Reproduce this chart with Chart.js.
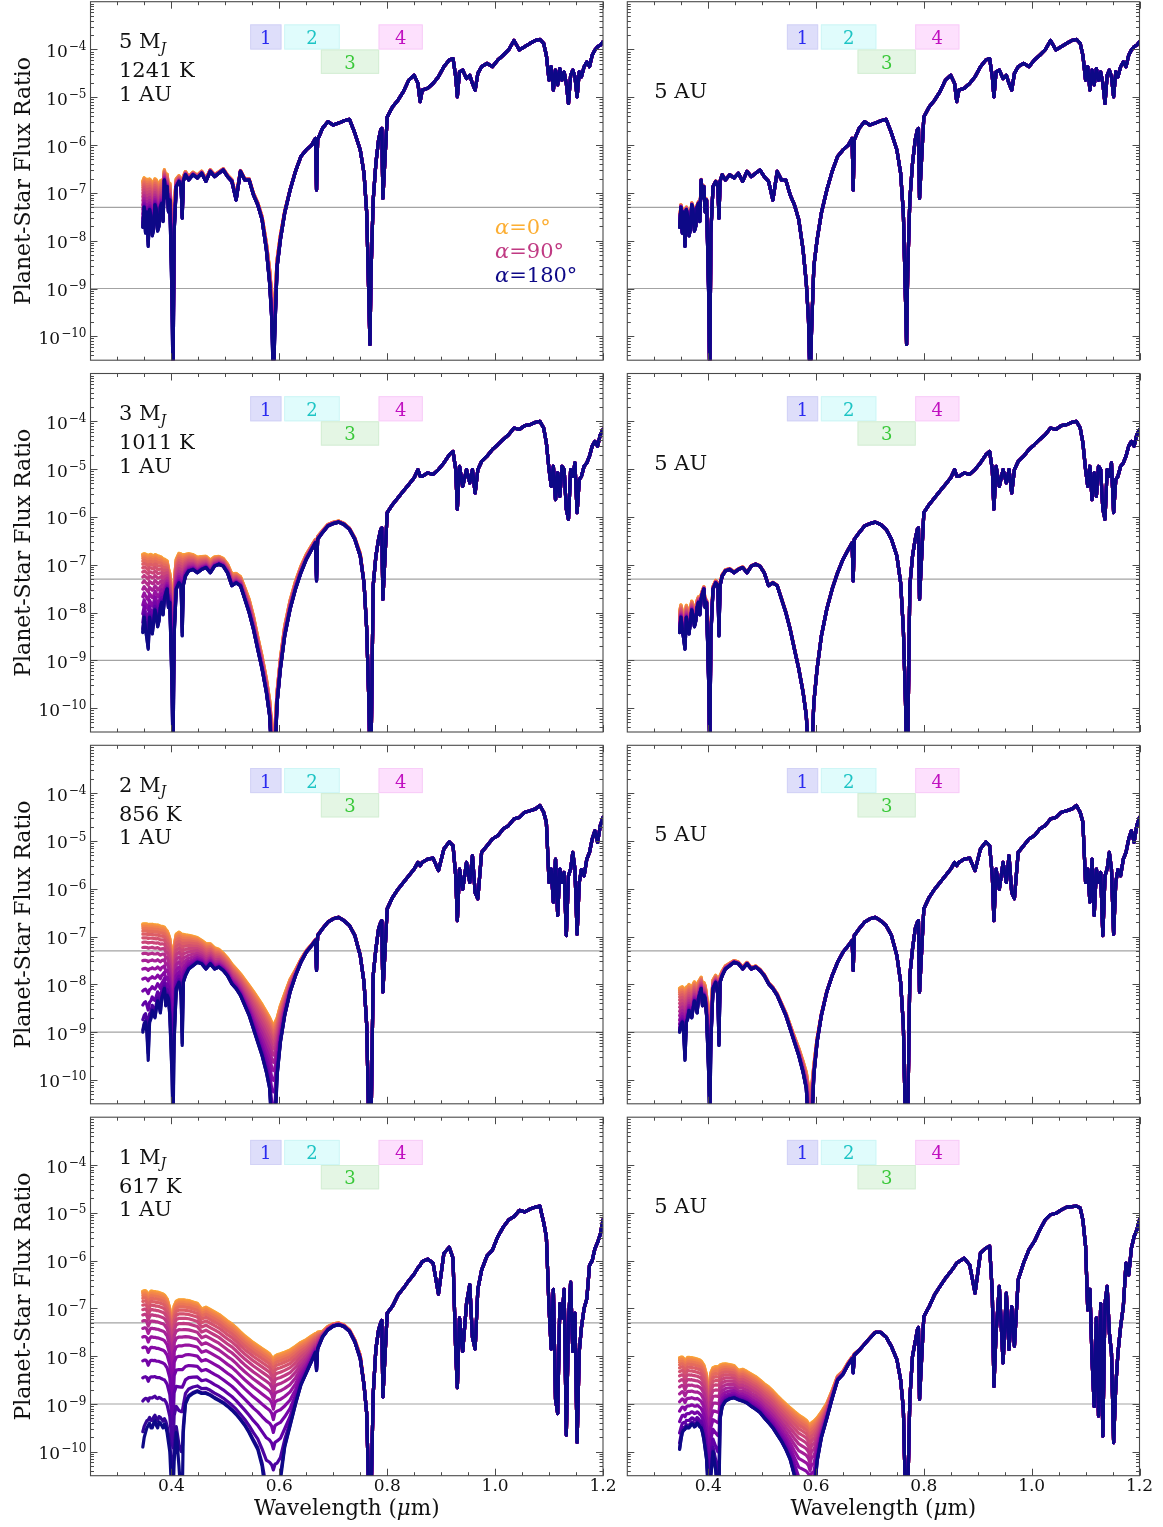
<!DOCTYPE html>
<html><head><meta charset="utf-8">
<script src="https://cdn.jsdelivr.net/npm/chart.js@4.4.1/dist/chart.umd.min.js"></script>
<style>
html,body{margin:0;padding:0;background:#fff;}
#fig{position:relative;width:1163px;height:1527px;overflow:hidden;background:#fff;}
#fig canvas{position:absolute;left:0;top:0;}
</style></head><body><div id="fig"></div>
<script>
// ---------------- DATA ----------------
// wavelength grid, micrometres
const wavelength = [0.347,0.3495,0.352,0.3545,0.357,0.3595,0.362,0.3645,0.367,0.3695,
 0.372,0.3745,0.377,0.3795,0.382,0.3845,0.387,0.3895,0.392,0.3945,
 0.397,0.401,0.403,0.405,0.409,0.414,0.418,0.420,0.422,0.426,
 0.432,0.440,0.448,0.456,0.464,0.472,0.480,0.488,0.496,0.504,
 0.512,0.520,0.528,0.536,0.544,0.552,0.560,0.568,0.576,0.582,
 0.586,0.589,0.592,0.596,0.602,0.610,0.620,0.630,0.640,0.650,
 0.660,0.667,0.669,0.671,0.680,0.690,0.700,0.710,0.720,0.730,
 0.740,0.750,0.757,0.762,0.766,0.768,0.770,0.774,0.779,0.784,
 0.788,0.790,0.792,0.800,0.810,0.820,0.830,0.840,0.850,0.857,
 0.861,0.865,0.875,0.885,0.895,0.905,0.915,0.922,0.927,0.930,
 0.934,0.940,0.947,0.953,0.958,0.963,0.968,0.975,0.985,0.995,
 1.005,1.015,1.025,1.035,1.045,1.055,1.065,1.075,1.083,1.090,
 1.095,1.100,1.104,1.108,1.112,1.116,1.120,1.124,1.128,1.132,
 1.136,1.140,1.144,1.148,1.152,1.156,1.160,1.165,1.170,1.175,
 1.180,1.185,1.190,1.195,1.200];

// night-side (alpha = 180 deg) planet/star flux ratio, log10
const thermalLog_5MJ = [-7.72,-7.3,-7.84,-7.4,-8.12,-7.35,-7.49,-7.9,-7.77,-7.25,
 -7.35,-7.8,-7.70,-7.3,-7.22,-7.6,-6.73,-7.1,-6.87,-7.4,
 -7.15,-9.2,-11,-7.84,-6.87,-6.76,-6.87,-7.53,-6.76,-6.62,
 -6.73,-6.62,-6.69,-6.59,-6.76,-6.55,-6.66,-6.59,-6.52,-6.66,
 -6.76,-7.15,-6.55,-6.73,-6.73,-7.04,-7.25,-7.56,-8.19,-8.89,
 -9.65,-11,-9.79,-8.54,-7.98,-7.42,-6.94,-6.55,-6.24,-6.10,
 -6.0,-5.86,-6.94,-5.89,-5.65,-5.51,-5.58,-5.54,-5.49,-5.46,
 -5.75,-6.10,-6.59,-7.42,-9.23,-10.17,-8.68,-7.15,-6.38,-5.89,
 -5.68,-5.65,-7.11,-5.41,-5.20,-5.06,-4.88,-4.64,-4.54,-4.71,
 -5.09,-4.85,-4.81,-4.71,-4.57,-4.36,-4.22,-4.19,-4.57,-4.99,
 -4.47,-4.43,-4.61,-4.54,-4.71,-4.85,-4.50,-4.36,-4.29,-4.36,
 -4.22,-4.12,-4.01,-3.81,-4.01,-3.94,-3.87,-3.81,-3.79,-3.87,
 -4.12,-4.64,-4.36,-4.85,-4.43,-4.74,-4.40,-4.64,-4.47,-4.71,
 -5.13,-4.54,-4.43,-4.57,-4.99,-4.47,-4.57,-4.36,-4.26,-4.36,
 -4.12,-4.01,-3.94,-3.91,-3.84];
const thermalLog_3MJ = [-8.42,-8.1,-8.35,-8.55,-8.77,-8.1,-8.28,-8.45,-8.21,-7.95,
 -8.07,-8.3,-8.18,-7.9,-7.79,-8.05,-7.72,-7.6,-7.51,-7.9,
 -7.79,-9.53,-11,-8.49,-7.51,-7.38,-7.44,-8.49,-7.44,-7.24,
 -7.13,-7.10,-7.17,-7.10,-7.06,-7.17,-7.03,-6.99,-7.03,-7.17,
 -7.44,-7.38,-7.44,-7.72,-8.0,-8.35,-8.77,-9.18,-9.67,-10.16,
 -11,-11,-11,-9.88,-9.18,-8.49,-7.93,-7.51,-7.17,-6.89,
 -6.68,-6.54,-7.34,-6.47,-6.33,-6.19,-6.14,-6.11,-6.16,-6.26,
 -6.47,-6.82,-7.38,-8.35,-9.88,-11,-11,-7.44,-6.82,-6.47,
 -6.26,-6.23,-7.72,-5.91,-5.74,-5.60,-5.46,-5.32,-5.18,-5.01,
 -5.15,-5.15,-5.08,-5.11,-5.01,-4.87,-4.70,-4.63,-5.01,-5.84,
 -4.94,-5.36,-5.01,-5.29,-5.01,-5.50,-5.01,-4.84,-4.73,-4.59,
 -4.49,-4.38,-4.28,-4.14,-4.17,-4.09,-4.07,-4.02,-4.0,-4.14,
 -4.45,-5.01,-5.36,-4.94,-5.64,-5.08,-5.57,-4.94,-5.01,-5.84,
 -6.05,-5.01,-5.15,-4.87,-5.91,-5.22,-5.15,-4.94,-4.87,-4.73,
 -4.52,-4.42,-4.52,-4.28,-4.17];
const thermalLog_2MJ = [-9.0,-8.85,-8.79,-9.0,-9.59,-8.8,-8.72,-8.55,-8.65,-8.7,
 -8.51,-8.35,-8.44,-8.6,-8.30,-8.2,-8.09,-8.45,-8.23,-8.3,
 -8.65,-9.9,-11,-9.2,-8.09,-7.96,-8.23,-9.28,-7.96,-7.82,
 -7.68,-7.61,-7.54,-7.57,-7.68,-7.57,-7.68,-7.64,-7.71,-7.82,
 -7.99,-8.09,-8.23,-8.44,-8.65,-8.93,-9.21,-9.49,-9.84,-10.18,
 -11,-11,-11,-9.9,-9.21,-8.65,-8.16,-7.82,-7.54,-7.33,
 -7.19,-7.08,-7.71,-6.98,-6.84,-6.70,-6.63,-6.60,-6.67,-6.77,
 -6.98,-7.40,-7.96,-8.86,-11,-11,-11,-7.82,-7.26,-6.84,
 -6.70,-6.67,-8.16,-6.42,-6.18,-6.01,-5.87,-5.73,-5.59,-5.45,
 -5.52,-5.45,-5.38,-5.36,-5.62,-5.17,-5.02,-5.10,-5.73,-6.67,
 -5.59,-6.01,-5.45,-5.87,-5.31,-6.08,-6.21,-5.24,-5.10,-4.96,
 -4.89,-4.75,-4.68,-4.54,-4.51,-4.40,-4.37,-4.33,-4.26,-4.40,
 -4.61,-5.87,-5.59,-6.28,-5.38,-6.56,-5.59,-5.87,-5.66,-6.98,
 -5.73,-5.59,-5.24,-5.59,-6.95,-5.87,-5.6,-5.73,-5.38,-5.24,
 -4.96,-4.79,-5.03,-4.68,-4.51];
const thermalLog_1MJ_1AU = [-9.9,-9.7,-9.6,-9.5,-9.45,-9.4,-9.5,-9.5,-9.4,-9.35,
 -9.45,-9.5,-9.38,-9.4,-9.45,-9.5,-9.42,-9.48,-9.6,-9.8,
 -10.0,-11,-11,-10.2,-9.6,-10.3,-11,-11,-9.6,-9.0,
 -8.85,-8.78,-8.74,-8.78,-8.78,-8.82,-8.88,-8.93,-8.98,-9.05,
 -9.13,-9.22,-9.33,-9.45,-9.6,-9.78,-9.95,-10.3,-11,-11,
 -11,-11,-11,-11,-10.6,-9.9,-9.45,-9.0,-8.6,-8.35,
 -8.1,-7.92,-8.3,-7.85,-7.6,-7.45,-7.37,-7.34,-7.38,-7.48,
 -7.7,-8.05,-8.6,-9.2,-11,-11,-11,-8.8,-7.85,-7.45,
 -7.3,-7.25,-8.85,-7.1,-6.95,-6.72,-6.58,-6.42,-6.28,-6.15,
 -6.10,-6.02,-5.97,-6.05,-6.7,-5.85,-5.72,-5.95,-7.9,-8.66,
 -7.2,-7.9,-6.9,-6.5,-7.6,-7.85,-6.6,-6.2,-5.9,-5.78,
 -5.5,-5.3,-5.15,-5.08,-4.95,-4.98,-4.92,-4.88,-4.86,-5.2,
 -5.5,-7.0,-7.85,-6.6,-8.9,-9.2,-6.9,-7.2,-6.6,-9.65,
 -7.3,-6.45,-7.9,-7.1,-9.8,-7.9,-7.4,-7.0,-6.8,-6.1,
 -6.0,-5.75,-5.62,-5.45,-5.15];
const thermalLog_1MJ_5AU = [-9.95,-9.75,-9.6,-9.55,-9.53,-9.48,-9.5,-9.5,-9.46,-9.42,
 -9.43,-9.48,-9.46,-9.4,-9.43,-9.48,-9.5,-9.6,-9.74,-9.95,
 -10.16,-11,-11,-10.5,-10.0,-10.4,-11,-11,-9.32,-9.05,
 -8.94,-8.89,-8.87,-8.91,-8.94,-8.98,-9.05,-9.11,-9.18,-9.29,
 -9.39,-9.5,-9.64,-9.78,-9.95,-10.16,-10.5,-11,-11,-11,
 -11,-11,-11,-11,-10.2,-9.7,-9.3,-8.88,-8.5,-8.38,
 -8.17,-8.05,-8.35,-7.98,-7.88,-7.75,-7.62,-7.5,-7.5,-7.6,
 -7.8,-8.07,-8.5,-9.1,-11,-11,-11,-8.9,-8.0,-7.7,
 -7.45,-7.4,-8.9,-7.17,-6.96,-6.71,-6.54,-6.37,-6.23,-6.12,
 -6.05,-6.02,-5.95,-6.09,-6.68,-5.84,-5.74,-5.7,-6.68,-8.63,
 -7.51,-6.54,-8.14,-6.68,-7.86,-6.96,-7.79,-6.4,-6.05,-5.77,
 -5.6,-5.36,-5.15,-5.04,-5.01,-4.94,-4.88,-4.87,-4.86,-4.9,
 -5.15,-5.7,-7.03,-6.6,-8.07,-9.05,-7.2,-9.25,-6.9,-9.67,
 -6.9,-6.54,-7.5,-7.93,-9.81,-8.63,-7.93,-7.38,-6.96,-6.05,
 -6.3,-5.74,-5.5,-5.36,-5.15];

// full-phase (alpha = 0) reflected-light ratio at 1 AU, log10, for lambda <= 0.75 um
const reflectedLog_5MJ = [-6.8,-6.8,-6.8,-6.81,-6.82,-6.82,-6.82,-6.83,-6.85,-6.85,
 -6.85,-6.86,-6.88,-6.89,-6.9,-6.91,-6.92,-6.93,-6.95,-7.0,
 -7.05,-7.6,-10,-7.4,-7.2,-7.25,-7.3,-7.35,-7.35,-7.4,
 -7.45,-7.5,-7.52,-7.55,-7.6,-7.62,-7.65,-7.7,-7.72,-7.76,
 -7.8,-7.85,-7.9,-7.95,-8.0,-8.1,-8.2,-8.35,-8.6,-8.9,
 -9.3,-9.6,-9.3,-8.9,-8.6,-8.5,-8.4,-8.35,-8.3,-8.3,
 -8.3,-8.3,-8.3,-8.3,-8.3,-8.3,-8.3,-8.35,-8.4,-8.45,
 -8.5,-8.55];
const reflectedLog_3MJ = [-6.79,-6.79,-6.79,-6.8,-6.82,-6.81,-6.8,-6.81,-6.83,-6.82,
 -6.82,-6.83,-6.84,-6.87,-6.9,-6.92,-6.95,-7.0,-7.05,-7.15,
 -7.3,-7.9,-9.5,-7.4,-7.0,-6.88,-6.88,-6.9,-6.9,-6.97,
 -7.02,-7.08,-7.12,-7.16,-7.2,-7.24,-7.28,-7.33,-7.38,-7.45,
 -7.55,-7.62,-7.7,-7.85,-8.05,-8.4,-8.85,-9.25,-9.7,-10.1,
 -10.5,-10.7,-10.5,-10.0,-9.35,-8.7,-8.2,-7.85,-7.6,-7.45,
 -7.35,-7.3,-7.3,-7.3,-7.3,-7.3,-7.3,-7.35,-7.4,-7.5,
 -7.6,-7.7];
const reflectedLog_2MJ = [-6.74,-6.74,-6.74,-6.74,-6.75,-6.75,-6.75,-6.75,-6.76,-6.76,
 -6.77,-6.77,-6.78,-6.79,-6.8,-6.81,-6.83,-6.86,-6.9,-6.97,
 -7.05,-7.4,-7.7,-7.2,-6.98,-6.95,-6.96,-6.98,-7.0,-7.03,
 -7.07,-7.12,-7.18,-7.25,-7.3,-7.36,-7.43,-7.51,-7.6,-7.69,
 -7.79,-7.89,-7.97,-8.05,-8.14,-8.23,-8.34,-8.46,-8.6,-8.71,
 -8.8,-8.87,-8.8,-8.73,-8.53,-8.39,-8.24,-8.31,-8.35,-8.4,
 -8.45,-8.5,-8.5,-8.5,-8.55,-8.6,-8.65,-8.7,-8.75,-8.8,
 -8.85,-8.9];
const reflectedLog_1MJ = [-6.64,-6.63,-6.63,-6.66,-6.75,-6.68,-6.64,-6.64,-6.65,-6.65,
 -6.66,-6.66,-6.67,-6.68,-6.69,-6.7,-6.72,-6.76,-6.8,-6.9,
 -7.0,-7.5,-7.6,-6.95,-6.85,-6.82,-6.82,-6.82,-6.82,-6.83,
 -6.84,-6.87,-6.9,-7.02,-6.98,-7.03,-7.08,-7.13,-7.2,-7.27,
 -7.33,-7.41,-7.5,-7.58,-7.65,-7.72,-7.78,-7.84,-7.9,-7.95,
 -8.02,-8.15,-8.0,-7.97,-7.95,-7.92,-7.88,-7.82,-7.77,-7.75,
 -7.73,-7.75,-7.8,-7.75,-8.1,-8.2,-8.3,-8.4,-8.5,-8.6,
 -8.7,-8.8];

const phaseAngles = [0,10,20,30,40,50,60,70,80,90,100,110,120,130,140,150,160,170,180];
const phaseFactor = [1.0,0.9855,0.9443,0.8808,0.8003,0.7081,0.6090,0.5081,0.4099,0.3183,
 0.2363,0.1661,0.1090,0.0653,0.0344,0.0148,0.0045,0.0006,0.0];

const distancesAU = [1, 5];
const massLabels = ['5', '3', '2', '1'];
const teffLabels = ['1241 K', '1011 K', '856 K', '617 K'];
const referenceLevels = [5e-8, 1e-9];

// bandpasses 1-4
const bandNames = ['1', '2', '3', '4'];
const bandMin = [0.546, 0.609, 0.677, 0.784];
const bandMax = [0.604, 0.712, 0.785, 0.866];
const bandLow = [1e-4, 1e-4, 3.1e-5, 1e-4];
const bandHigh = [3.35e-4, 3.35e-4, 1e-4, 3.35e-4];

// axes
const xMin = 0.25, xMax = 1.2;
const yMinExp = -10.5, yMaxExp = -3;
const xMajorTicks = [0.4, 0.6, 0.8, 1.0, 1.2];
const xTickLabels = ['0.4', '0.6', '0.8', '1.0', '1.2'];
const xMinorTicks = [0.3,0.35,0.45,0.5,0.55,0.65,0.7,0.75,0.85,0.9,0.95,1.05,1.1,1.15];
const yMajorExponents = [-10, -9, -8, -7, -6, -5, -4];

// ---------------- STYLE / LAYOUT ----------------
const W = 1163, H = 1527;
const colX = [[90.5, 603], [627.3, 1139.5]];
const rowY = [[1.7, 360.2], [373.5, 732], [745.3, 1103.8], [1117.2, 1475.7]];
const SERIF = '"DejaVu Serif", "Liberation Serif", serif';
const bandFill = ['#dedefa', '#e0fcfc', '#e4f6e4', '#fde0fd'];
const bandEdge = ['#d2d2f6', '#cef6f6', '#d4eed4', '#f8cdf8'];
const bandText = ['#2a2af0', '#1cc4c4', '#38c838', '#c010c0'];

const plasmaStops = ['#0d0887','#41049d','#6a00a8','#8f0da4','#b12a90','#cc4778','#e16462','#f2844b','#fca636','#fcce25','#f0f921'];
function hexRgb(h){ return [parseInt(h.slice(1,3),16), parseInt(h.slice(3,5),16), parseInt(h.slice(5,7),16)]; }
function plasma(t){
  const s = Math.max(0, Math.min(1, t)) * 10;
  const i = Math.min(9, Math.floor(s)); const f = s - i;
  const a = hexRgb(plasmaStops[i]), b = hexRgb(plasmaStops[i+1]);
  return 'rgb(' + a.map((v, j) => Math.round(v + (b[j] - v) * f)).join(',') + ')';
}
const phaseColors = phaseAngles.map((a, k) => plasma(0.82 * Math.pow(1 - k / 18, 0.85)));

const thermalByRow = [[thermalLog_5MJ, thermalLog_5MJ], [thermalLog_3MJ, thermalLog_3MJ],
  [thermalLog_2MJ, thermalLog_2MJ], [thermalLog_1MJ_1AU, thermalLog_1MJ_5AU]];
const reflectedByRow = [reflectedLog_5MJ, reflectedLog_3MJ, reflectedLog_2MJ, reflectedLog_1MJ];

// ---------------- helpers ----------------
function drawParts(ctx, parts, x, y, align) {
  let total = 0;
  parts.forEach(p => { ctx.font = p.font; p.w = ctx.measureText(p.t).width; total += p.w; });
  let cx = align === 'center' ? x - total / 2 : (align === 'right' ? x - total : x);
  ctx.textAlign = 'left'; ctx.textBaseline = 'alphabetic';
  parts.forEach(p => { ctx.font = p.font; ctx.fillStyle = p.c || ctx.fillStyle; ctx.fillText(p.t, cx, y + (p.dy || 0)); cx += p.w; });
}

const decor = {
  id: 'decor',
  beforeDatasetsDraw(chart, args, o) {
    const { ctx, chartArea: a, scales: { x, y } } = chart;
    ctx.save();
    ctx.beginPath(); ctx.rect(a.left, a.top, a.right - a.left, a.bottom - a.top); ctx.clip();
    bandNames.forEach((name, i) => {
      const L = x.getPixelForValue(bandMin[i]), R = x.getPixelForValue(bandMax[i]);
      const T = y.getPixelForValue(bandHigh[i]), B = y.getPixelForValue(bandLow[i]);
      ctx.fillStyle = bandFill[i]; ctx.fillRect(L, T, R - L, B - T);
      ctx.strokeStyle = bandEdge[i]; ctx.lineWidth = 1; ctx.strokeRect(L + 0.5, T + 0.5, R - L - 1, B - T - 1);
      ctx.fillStyle = bandText[i]; ctx.font = '18px ' + SERIF; ctx.textAlign = 'center'; ctx.textBaseline = 'alphabetic';
      ctx.fillText(name, (L + R) / 2, (T + B) / 2 + 7);
    });
    ctx.restore();
  },
  afterDatasetsDraw(chart, args, o) {
    const { ctx, chartArea: a, scales: { x, y } } = chart;
    ctx.save();
    ctx.strokeStyle = '#4a4a4a'; ctx.lineWidth = 1;
    const xt = (v, len) => { const p = Math.round(x.getPixelForValue(v)) + 0.5;
      ctx.beginPath(); ctx.moveTo(p, a.bottom); ctx.lineTo(p, a.bottom - len); ctx.moveTo(p, a.top); ctx.lineTo(p, a.top + len); ctx.stroke(); };
    const yt = (v, len) => { const p = Math.round(y.getPixelForValue(v)) + 0.5;
      ctx.beginPath(); ctx.moveTo(a.left, p); ctx.lineTo(a.left + len, p); ctx.moveTo(a.right, p); ctx.lineTo(a.right - len, p); ctx.stroke(); };
    xMajorTicks.forEach(v => xt(v, 7)); xMinorTicks.forEach(v => xt(v, 3.5));
    yMajorExponents.forEach(e => yt(Math.pow(10, e), 7));
    for (let n = -11; n <= -4; n++) for (let k = 2; k <= 9; k++) {
      const v = k * Math.pow(10, n);
      if (v > Math.pow(10, yMinExp) && v < Math.pow(10, yMaxExp)) yt(v, 3.5);
    }
    ctx.strokeStyle = '#4a4a4a'; ctx.lineWidth = 1.1;
    ctx.strokeRect(a.left, a.top, a.right - a.left, a.bottom - a.top);
    ctx.fillStyle = '#111';
    if (o.col === 0) {
      yMajorExponents.forEach(e => {
        const p = y.getPixelForValue(Math.pow(10, e));
        const expStr = '\u2212' + String(-e);
        ctx.font = '12px ' + SERIF; const ew = ctx.measureText(expStr).width;
        ctx.textAlign = 'right'; ctx.textBaseline = 'alphabetic';
        const rx = a.left - 4;
        ctx.fillText(expStr, rx, p + 0.5);
        ctx.font = '17px ' + SERIF;
        ctx.fillText('10', rx - ew - 1, p + 7.5);
      });
      ctx.save();
      ctx.translate(29.5, (a.top + a.bottom) / 2); ctx.rotate(-Math.PI / 2);
      ctx.font = '22px ' + SERIF; ctx.textAlign = 'center'; ctx.textBaseline = 'alphabetic';
      ctx.fillText('Planet-Star Flux Ratio', 0, 0);
      ctx.restore();
    }
    if (o.row === 3) {
      ctx.font = '17px ' + SERIF; ctx.textAlign = 'center'; ctx.textBaseline = 'alphabetic';
      xMajorTicks.forEach((v, i) => ctx.fillText(xTickLabels[i], x.getPixelForValue(v), a.bottom + 15.5));
      const f = '21.5px ' + SERIF, fi = 'italic 21.5px ' + SERIF;
      drawParts(ctx, [{ t: 'Wavelength (', font: f }, { t: '\u03bc', font: fi }, { t: 'm)', font: f }],
        (a.left + a.right) / 2, a.bottom + 39.5, 'center');
    }
    ctx.fillStyle = '#111';
    const f21 = '21px ' + SERIF;
    if (o.col === 0) {
      drawParts(ctx, [{ t: massLabels[o.row] + ' M', font: f21 }, { t: 'J', font: 'italic 14px ' + SERIF, dy: 4.5 }], a.left + 28.5, a.top + 46.6, 'left');
      ctx.font = f21; ctx.textAlign = 'left'; ctx.fillText(teffLabels[o.row], a.left + 28.5, a.top + 75.6);
      ctx.fillText(distancesAU[0] + ' AU', a.left + 28.5, a.top + 99);
    } else {
      ctx.font = f21; ctx.textAlign = 'left'; ctx.textBaseline = 'alphabetic';
      ctx.fillText(distancesAU[1] + ' AU', a.left + 27, a.top + 96);
    }
    if (o.row === 0 && o.col === 0) {
      [0, 9, 18].forEach((k, j) => {
        drawParts(ctx, [{ t: '\u03b1', font: 'italic 21px ' + SERIF, c: phaseColors[k] },
          { t: '=' + phaseAngles[k] + '\u00b0', font: f21, c: phaseColors[k] }],
          a.left + 404.5, a.top + 232.3 + j * 23.9, 'left');
      });
    }
    ctx.restore();
  }
};

// ---------------- build the 8 panels ----------------
const fig = document.getElementById('fig');
for (let row = 0; row < 4; row++) {
  for (let col = 0; col < 2; col++) {
    const cv = document.createElement('canvas');
    cv.width = W; cv.height = H; cv.style.width = W + 'px'; cv.style.height = H + 'px';
    fig.appendChild(cv);
    const T = thermalByRow[row][col];
    const R = reflectedByRow[row];
    const d2 = distancesAU[col] * distancesAU[col];
    const datasets = [];
    referenceLevels.forEach(lv => datasets.push({
      data: [{ x: xMin, y: lv }, { x: xMax, y: lv }], borderColor: '#a3a3a3', borderWidth: 1.2,
      pointRadius: 0, fill: false, order: 100, clip: 0
    }));
    phaseAngles.forEach((ang, k) => {
      const data = wavelength.map((w, i) => ({
        x: w,
        y: Math.pow(10, T[i]) + (i < R.length ? phaseFactor[k] * Math.pow(10, R[i]) / d2 : 0)
      }));
      datasets.push({
        label: '\u03b1=' + ang + '\u00b0', data, borderColor: phaseColors[k], borderWidth: 3.2,
        pointRadius: 0, fill: false, tension: 0, order: 18 - k, clip: 0,
        borderJoinStyle: 'round', borderCapStyle: 'round'
      });
    });
    new Chart(cv, {
      type: 'line',
      data: { datasets },
      options: {
        responsive: false, animation: false, devicePixelRatio: 1, events: [],
        parsing: false, normalized: true,
        layout: { padding: { left: colX[col][0], right: W - colX[col][1], top: rowY[row][0], bottom: H - rowY[row][1] } },
        scales: {
          x: { type: 'linear', min: xMin, max: xMax, display: false },
          y: { type: 'logarithmic', min: Math.pow(10, yMinExp), max: Math.pow(10, yMaxExp), display: false }
        },
        plugins: { legend: { display: false }, tooltip: { enabled: false }, decor: { row, col } }
      },
      plugins: [decor]
    });
  }
}
</script>
</body></html>
